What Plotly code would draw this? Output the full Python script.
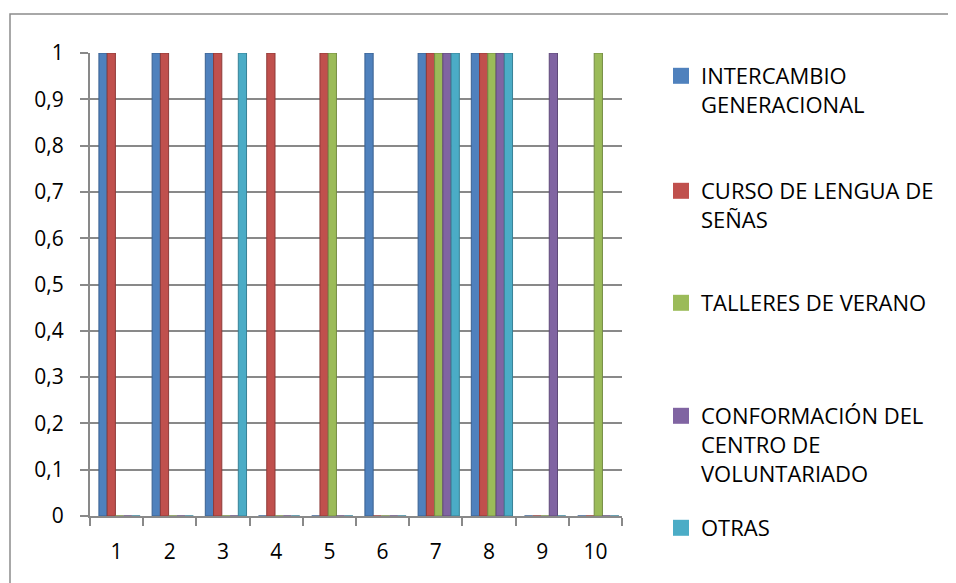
import plotly.graph_objects as go

# categorías del eje x
categorias = ["1", "2", "3", "4", "5", "6", "7", "8", "9", "10"]

intercambio = [1, 1, 1, 0, 0, 1, 1, 1, 0, 0]
curso_senas = [1, 1, 1, 1, 1, 0, 1, 1, 0, 0]
talleres = [0, 0, 0, 0, 1, 0, 1, 1, 0, 1]
conformacion = [0, 0, 0, 0, 0, 0, 1, 1, 1, 0]
otras = [0, 0, 1, 0, 0, 0, 1, 1, 0, 0]

nombres = ["INTERCAMBIO<br>GENERACIONAL", "CURSO DE LENGUA DE<br>SEÑAS",
           "TALLERES DE VERANO", "CONFORMACIÓN DEL<br>CENTRO DE<br>VOLUNTARIADO", "OTRAS"]
colores = ["#4F81BD", "#C0504D", "#9BBB59", "#8064A2", "#4BACC6"]
bordes = ["#3A6190", "#8E3B39", "#748C43", "#5F4A79", "#378196"]
series = [intercambio, curso_senas, talleres, conformacion, otras]

# the page body has an 8px margin, so work in page pixels and shift
OFF = 8
W, H = 956 - OFF, 583 - OFF
plot_left, plot_right, plot_top, plot_bottom = 90, 622, 53, 516
L, T = plot_left - OFF, plot_top - OFF
R, B = W - (plot_right - OFF), H - (plot_bottom - OFF)
pw, ph = W - L - R, H - T - B


def px_x(p):
    return (p - plot_left) / pw


def px_y(p):
    return (plot_bottom - p) / ph


font_fam = "Open Sans, Liberation Sans, sans-serif"
grid_col = "#898989"
bar_w = 0.155
shift = 0.055

fig = go.Figure()
legend_px_y = [55, 170, 282, 395, 507]
for i, (vals, nombre, col, bd) in enumerate(zip(series, nombres, colores, bordes)):
    key = "legend" if i == 0 else f"legend{i + 1}"
    fig.add_trace(go.Bar(
        x=categorias, y=vals, name=nombre, showlegend=False,
        width=bar_w, offset=-2.5 * bar_w + shift + i * bar_w,
        marker=dict(color=col, line=dict(color=bd, width=1)),
    ))
    # legend entry
    fig.add_trace(go.Scatter(
        x=[None], y=[None], mode="markers", name=nombre, legend=key,
        marker=dict(symbol="square", size=16, color=col),
    ))
    fig.update_layout({key: dict(
        x=px_x(661), y=px_y(legend_px_y[i]), xanchor="left", yanchor="top",
        bgcolor="rgba(0,0,0,0)", valign="top", itemsizing="trace",
        font=dict(family=font_fam, size=22, color="#000000"),
    )})

fig.update_layout(
    width=W, height=H,
    margin=dict(l=L, r=R, t=T, b=B),
    paper_bgcolor="white", plot_bgcolor="white",
    separators=",.",
    barmode="group",
    font=dict(family=font_fam, size=21, color="#000000"),
    showlegend=True,
)
fig.update_yaxes(
    range=[0, 1], dtick=0.1, tickformat=".1~f",
    showgrid=True, gridcolor=grid_col, gridwidth=2,
    showline=True, linecolor=grid_col, linewidth=2,
    ticks="outside", ticklen=8, tickcolor=grid_col, tickwidth=2,
    ticklabelstandoff=12,
    zeroline=False,
)
fig.update_xaxes(
    tickson="boundaries", ticks="outside", ticklen=8, tickcolor=grid_col, tickwidth=2,
    showline=True, linecolor=grid_col, linewidth=2,
    ticklabelstandoff=16,
    showgrid=False,
)
# borde del área del gráfico
fig.add_shape(type="rect", xref="paper", yref="paper",
              x0=px_x(10), x1=px_x(952), y0=px_y(595), y1=px_y(14),
              line=dict(color="#8C8C8C", width=1.5), layer="below")

fig.write_html("out.html")
